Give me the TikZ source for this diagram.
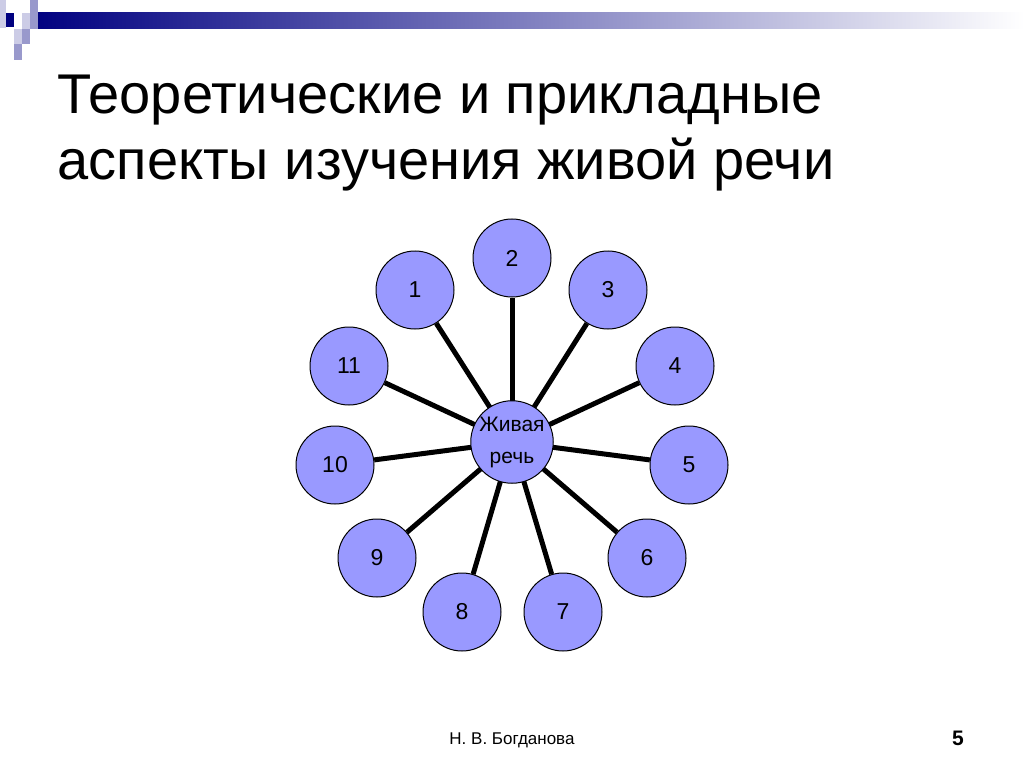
\documentclass[tikz,border=0pt]{standalone}
\usepackage{fontspec}
\setmainfont{Liberation Sans}
\begin{document}
\begin{tikzpicture}[x=1pt,y=-1pt,
  petal/.style={circle,draw=black,line width=1pt,fill=nodefill,minimum size=78pt,inner sep=0pt,font=\fontsize{23}{24}\selectfont},
  spoke/.style={line width=5pt}]
\definecolor{nodefill}{RGB}{153,153,255}
\definecolor{navy}{RGB}{0,0,128}
\definecolor{lav}{RGB}{153,153,204}
\definecolor{lavl}{RGB}{204,204,230}
\useasboundingbox (0,0) rectangle (1024,767);
\shade[left color=navy,right color=white] (30,13) rectangle (1024,29);
\fill[lavl] (0,0) rectangle (6,28);
\fill[navy] (6,13) rectangle (14,27);
\fill[lavl] (22,13) rectangle (30,29);
\fill[lav] (30,0) rectangle (38,29);
\fill[lavl] (14,29) rectangle (22,44);
\fill[lav] (22,29) rectangle (30,44);
\fill[lav] (14,44) rectangle (22,60);
\node[anchor=west,align=left,font=\fontsize{56}{66}\selectfont] (title) at (54,133) {Теоретические и прикладные\\аспекты изучения живой речи};
\node[petal,minimum size=78pt] (c) at (512,442) {};
\foreach \n/\x/\y in {1/415/290,2/512/258,3/608/290,4/675/366,5/689/465,6/647/558,7/563/612,8/462/612,9/377/558,10/335/465,11/349/366}{
  \node[petal] (p\n) at (\x,\y) {\n};
  \draw[spoke] (c.center) -- (p\n);
}
\node[petal,minimum size=78pt,align=center,font=\fontsize{21}{32}\selectfont] (cc) at (512,442) {Живая\\речь};
\node[font=\fontsize{17}{18}\selectfont] (auth) at (512,740) {Н. В. Богданова};
\node[font=\bfseries\fontsize{21}{22}\selectfont] (num) at (958,738) {5};
\end{tikzpicture}
\end{document}
